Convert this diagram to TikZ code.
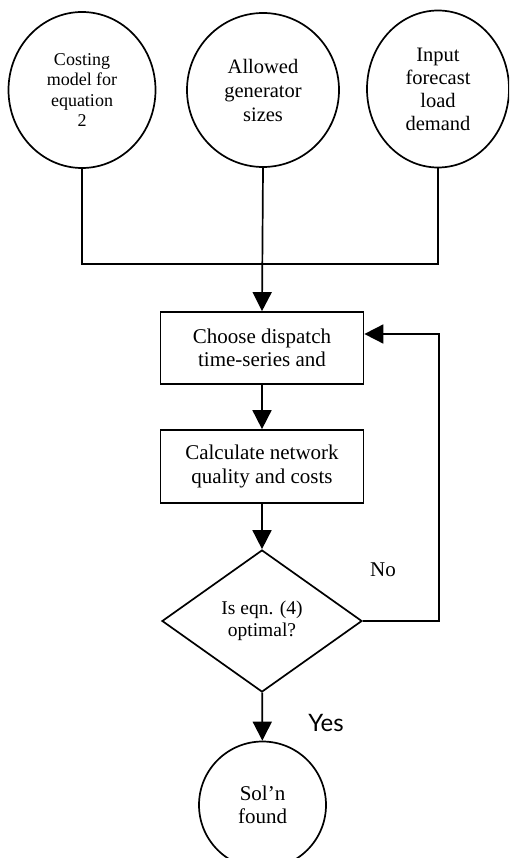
\documentclass[tikz,border=0pt]{standalone}
\usepackage{fontspec}
\setmainfont{Liberation Serif}
\newfontfamily\yesfont{Lato}
\usetikzlibrary{arrows.meta,shapes.geometric}
\begin{document}
\begin{tikzpicture}[x=1pt,y=-1pt,
  line width=1.7pt,
  inputnode/.style={draw,ellipse,inner sep=0pt,align=center},
  procbox/.style={draw,rectangle,minimum width=203pt,minimum height=72pt,inner sep=0pt,align=center,
    font=\fontsize{21}{23.5}\selectfont},
  decision/.style={draw,diamond,minimum width=200pt,minimum height=142pt,inner sep=0pt,align=center,
    font=\fontsize{19.5}{22}\selectfont},
  flow/.style={-{Triangle[width=19pt,length=19pt]}},
  plain/.style={line width=1.7pt}]
\clip (0,0) rectangle (509,858);
\useasboundingbox (0,0) rectangle (509,858);

% input circles
\node[inputnode,minimum width=147pt,minimum height=156pt,font=\fontsize{18}{20.5}\selectfont]
  (cost) at (82,90) {Costing\\model for\\equation\\2};
\node[inputnode,minimum width=152pt,minimum height=154pt,font=\fontsize{20.5}{24}\selectfont]
  (gen) at (263,90) {Allowed\\generator\\sizes};
\node[inputnode,minimum width=142pt,minimum height=157pt,font=\fontsize{20.5}{23}\selectfont]
  (load) at (438,89) {Input\\forecast\\load\\demand};

% process steps
\node[procbox] (choose) at (262,348) {Choose dispatch\\time-series and};
\node[procbox,minimum height=73pt] (calc) at (262,466.5) {Calculate network\\quality and costs};
\node[decision] (opt) at (262,621) {Is eqn. (4)\\optimal?};
\node[draw,circle,minimum size=127pt,inner sep=0pt,align=center,font=\fontsize{21}{23}\selectfont]
  (sol) at (262.5,805) {Sol'n\\found};

% branch labels
\node[font=\fontsize{21}{22}\selectfont] (nolab) at (383,570) {No};
\node[font=\yesfont\fontsize{24}{26}\selectfont] (yeslab) at (326,723) {Yes};

% joins and arrows
\coordinate (join) at (262,264);
\coordinate (back) at (439,334);
\draw[plain] (cost.south) -- (cost.south |- join) -- (load.south |- join) -- (load.south);
\draw[flow] (gen.south) -- (choose.north);
\draw[flow] (choose) -- (calc);
\draw[flow] (calc) -- (opt);
\draw[flow] (opt) -- (sol);
\draw[flow] (opt.east) -| (back) -- (back -| choose.east);
\end{tikzpicture}
\end{document}
